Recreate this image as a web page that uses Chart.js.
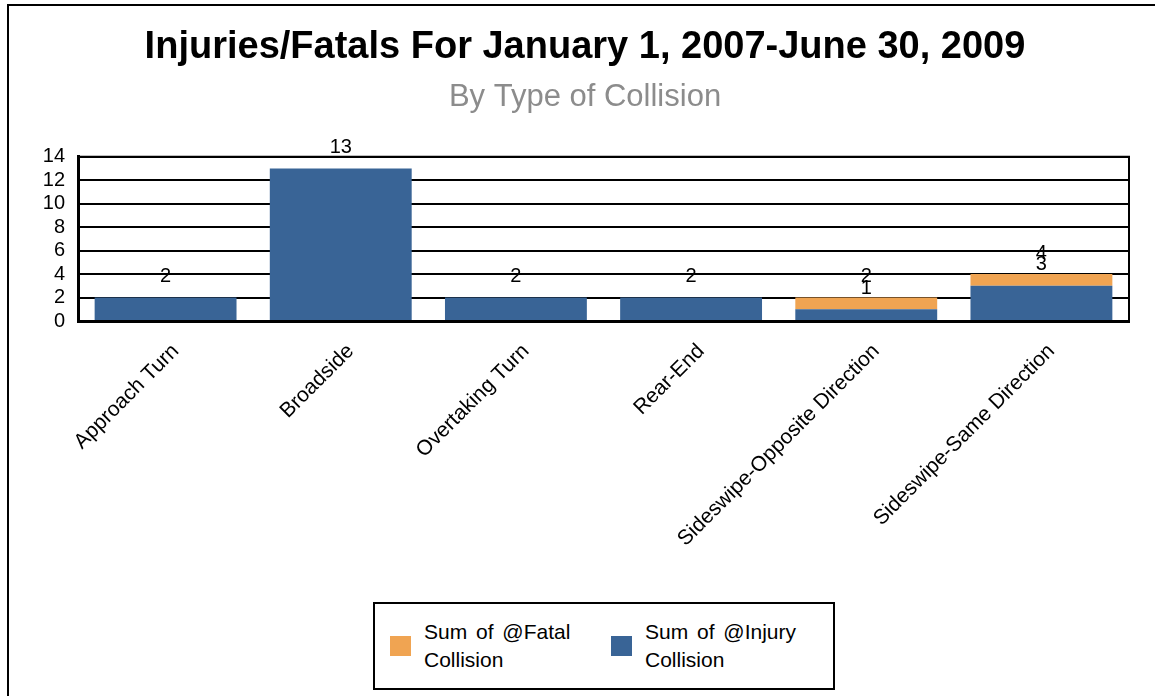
<!DOCTYPE html>
<html>
<head>
<meta charset="utf-8">
<script src="https://cdn.jsdelivr.net/npm/chart.js@4.4.1/dist/chart.umd.min.js"></script>
<style>
	html, body { margin: 0; padding: 0; background: #fff; overflow: hidden; }
	body { width: 1155px; height: 696px; position: relative; font-family: "Liberation Sans", Arial, sans-serif; }
	#frame { position: absolute; left: 7px; top: 4px; width: 1300px; height: 800px; border-left: 2px solid #000; border-top: 2px solid #000; }
	#chart-box { position: absolute; left: 9px; top: 6px; width: 1200px; height: 690px; }
	#legend { position: absolute; left: 373px; top: 602px; width: 458px; height: 84px; border: 2px solid #000; background: #fff; }
	.legend-item { position: absolute; top: 0; height: 84px; display: flex; align-items: center; }
	.legend-swatch { width: 21px; height: 20px; margin-right: 13px; }
	.legend-text { font-size: 21px; line-height: 28px; color: #000; width: 175px; word-spacing: 3px; }
</style>
</head>
<body>
<div id="frame"></div>
<div id="chart-box"><canvas id="collision-chart"></canvas></div>
<div id="legend"></div>
<script>
const categories = ["Approach Turn", "Broadside", "Overtaking Turn", "Rear-End", "Sideswipe-Opposite Direction", "Sideswipe-Same Direction"];
const injuryCollisions = [2, 13, 2, 2, 1, 3];
const fatalCollisions = [0, 0, 0, 0, 1, 1];
const yTicks = [0, 2, 4, 6, 8, 10, 12, 14];

const blue = "#396496";
const orange = "#F0A452";
const font = "'Liberation Sans', Arial, sans-serif";

// Labels sit above each segment and show the running (stacked) total
const stackLabels = {
	id: "stackLabels",
	afterDatasetsDraw(chart)
	{
		const ctx = chart.ctx;
		ctx.save();
		ctx.font = "20px " + font;
		ctx.fillStyle = "#000";
		ctx.textAlign = "center";
		ctx.textBaseline = "middle";
		chart.data.datasets.forEach(function (ds, i)
		{
			chart.getDatasetMeta(i).data.forEach(function (bar, j)
			{
				if (!ds.data[j]) return;
				let total = 0;
				for (let k = 0; k <= i; k++) total += chart.data.datasets[k].data[j];
				ctx.fillText(String(total), bar.x, bar.y - 21);
			});
		});
		ctx.restore();
	}
};

// Black frame round the plot area
const plotBorder = {
	id: "plotBorder",
	afterDraw(chart)
	{
		const a = chart.chartArea;
		const ctx = chart.ctx;
		ctx.save();
		ctx.strokeStyle = "#000";
		ctx.lineWidth = 2;
		ctx.beginPath();
		ctx.moveTo(a.left, a.top);
		ctx.lineTo(a.right, a.top);
		ctx.lineTo(a.right, a.bottom);
		ctx.stroke();
		ctx.restore();
	}
};

const chart = new Chart(document.getElementById("collision-chart"), {
	type: "bar",
	data: {
		labels: categories,
		datasets: [
			{label: "Sum of @Injury Collision", data: injuryCollisions, backgroundColor: blue},
			{label: "Sum of @Fatal Collision", data: fatalCollisions, backgroundColor: orange}
		]
	},
	plugins: [stackLabels, plotBorder],
	options: {
		responsive: true,
		maintainAspectRatio: false,
		animation: false,
		layout: {padding: {left: 32, right: 80, top: 0, bottom: 0}},
		datasets: {bar: {categoryPercentage: 1, barPercentage: 0.81}},
		plugins: {
			legend: {display: false},
			tooltip: {enabled: false},
			title: {
				display: true,
				text: "Injuries/Fatals For January 1, 2007-June 30, 2009",
				color: "#000",
				font: {family: font, size: 38, weight: "bold", lineHeight: 1.2},
				padding: {top: 19, bottom: 0}
			},
			subtitle: {
				display: true,
				text: "By Type of Collision",
				color: "#8c8c8c",
				font: {family: font, size: 31, lineHeight: 1.2},
				padding: {top: 8, bottom: 41}
			}
		},
		scales: {
			x: {
				stacked: true,
				grid: {display: false, drawTicks: false},
				border: {color: "#000", width: 3},
				ticks: {
					color: "#000",
					minRotation: 45,
					maxRotation: 45,
					autoSkip: false,
					padding: 18,
					labelOffset: 10,
					font: {family: font, size: 21}
				},
				afterFit(scale) { scale.height = 375; }
			},
			y: {
				stacked: true,
				min: 0,
				max: 14,
				afterBuildTicks(scale) { scale.ticks = yTicks.map(v => ({value: v})); },
				grid: {color: "#000", lineWidth: 2, drawTicks: false},
				border: {color: "#000", width: 3},
				ticks: {
					color: "#000",
					autoSkip: false,
					padding: 13,
					font: {family: font, size: 20}
				},
				afterFit(scale) { scale.width = 37; }
			}
		}
	}
});

// Legend built from the datasets, Fatal first as in the original
const legendBox = document.getElementById("legend");
const legendLeft = [15, 236];
chart.data.datasets.slice().reverse().forEach(function (ds, i)
{
	const item = document.createElement("div");
	item.className = "legend-item";
	item.style.left = legendLeft[i] + "px";
	const sw = document.createElement("div");
	sw.className = "legend-swatch";
	sw.style.background = ds.backgroundColor;
	const txt = document.createElement("div");
	txt.className = "legend-text";
	txt.textContent = ds.label;
	item.appendChild(sw);
	item.appendChild(txt);
	legendBox.appendChild(item);
});
</script>
</body>
</html>
